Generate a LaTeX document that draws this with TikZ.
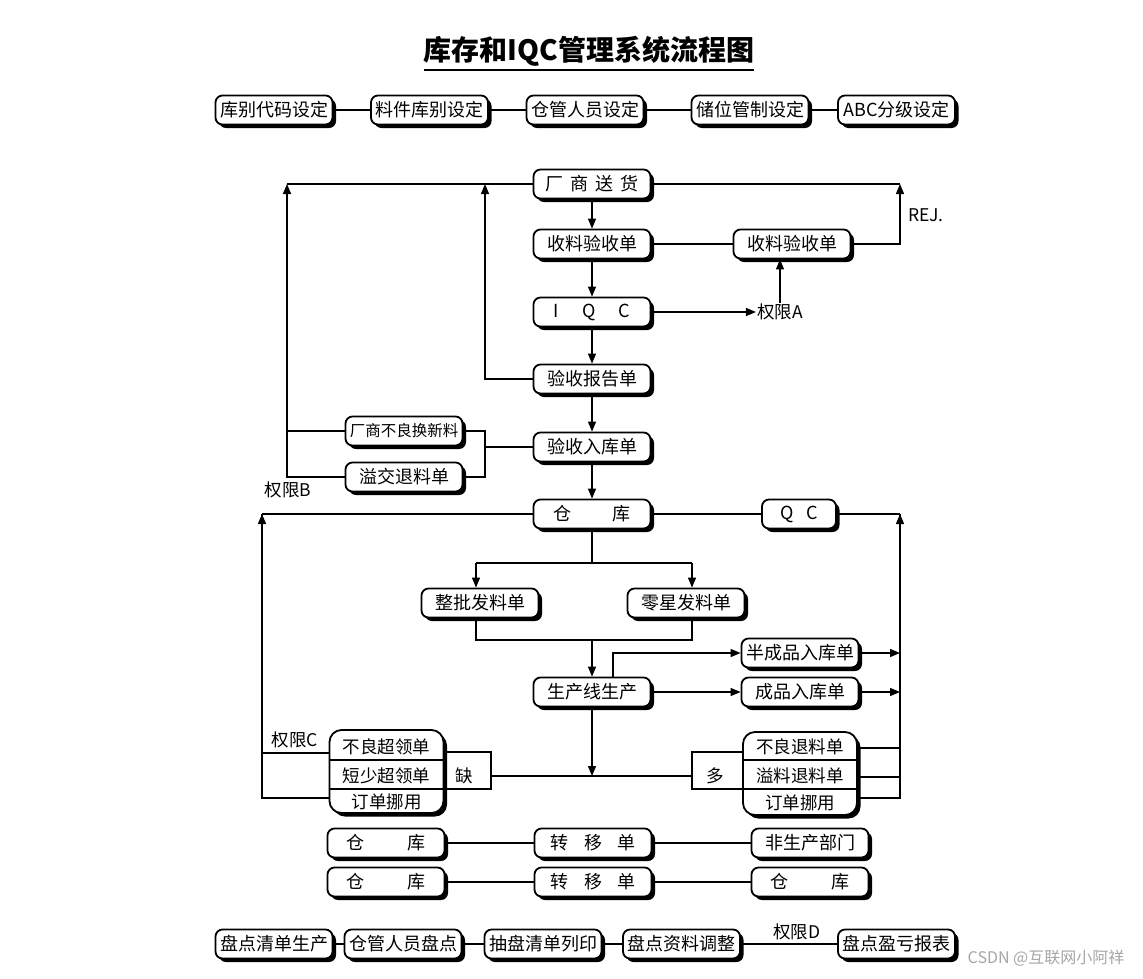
\documentclass[tikz,border=0pt]{standalone}
\usepackage{fontspec}
\setmainfont{Noto Sans CJK SC}
\usepackage{tikz}
\usetikzlibrary{
  arrows.meta,
  positioning,
  shadows,
  calc
}
\tikzset{
  box/.style      = {draw, line width=1.8pt, rounded corners=7pt, fill=white,
                     minimum width=117pt, minimum height=29pt, inner sep=0pt,
                     font=\fontsize{18}{20}\selectfont,
                     drop shadow={shadow xshift=3.5pt, shadow yshift=-3.5pt,
                                  opacity=1, fill=black}},
  qcbox/.style    = {box, minimum width=74pt},
  multibox/.style = {box, rounded corners=12pt, minimum width=114pt, minimum height=83pt},
  divider/.style  = {line width=1.5pt},
  wire/.style     = {line width=1.3pt},
  arrow/.style    = {wire, -{Triangle[length=10pt, width=8pt]}},
  tag/.style      = {inner sep=1pt, font=\fontsize{17.5}{19}\selectfont},
}

\begin{document}
\begin{tikzpicture}[x=1pt, y=-1pt]
\useasboundingbox (0,0) rectangle (1143,978);

% ========== Title ==========
\node[inner sep=0pt, font=\fontsize{28}{30}\selectfont\bfseries] (title)
  at (589,51) {库存和IQC管理系统流程图};
\draw[line width=2.2pt] ([yshift=-4pt]title.south west) -- ([yshift=-4pt]title.south east);

% ========== Setup row ==========
\node[box] (code)  at (274,110)   {库别代码设定};
\node[box] (part)  at (429.5,110) {料件库别设定};
\node[box] (staff) at (585,110)   {仓管人员设定};
\node[box] (bin)   at (750,110)   {储位管制设定};
\node[box] (abc)   at (896.5,110) {ABC分级设定};

\draw[wire] (code) -- (part);
\draw[wire] (part) -- (staff);
\draw[wire] (staff) -- (bin);
\draw[wire] (bin) -- (abc);

% ========== Receiving ==========
\node[box] (deliver) at (592,184) {厂\hspace{0.4em}商\hspace{0.4em}送\hspace{0.4em}货};
\node[box] (recv)    at (592,244) {收料验收单};
\node[box] (recvrej) at (792,244) {收料验收单};
\node[box] (iqc)     at (592,312) {I\hspace{1.3em}Q\hspace{1.3em}C};
\node[box] (report)  at (592,379) {验收报告单};
\node[box] (instock) at (592,447) {验收入库单};
\node[box, font=\fontsize{15.5}{17}\selectfont] (vendnew) at (404,431) {厂商不良换新料};
\node[box] (overret) at (404,477) {溢交退料单};

\node[tag] (qxA) at (780,312) {权限A};
\node[tag] (rej) at (926,215) {REJ.};
\node[tag] (qxB) at (288,490) {权限B};

\coordinate (rejtop) at (900,184);
\coordinate (bltop)  at (287,184);
\coordinate (brtop)  at (485,184);
\coordinate (bk)     at (485,447);

\draw[arrow] (deliver) -- (recv);
\draw[arrow] (recv) -- (iqc);
\draw[arrow] (iqc) -- (report);
\draw[arrow] (report) -- (instock);

\draw[wire] (recv) -- (recvrej);
\draw[wire] (deliver) -- (rejtop);
\draw[arrow] (recvrej) -| (rejtop);
\draw[arrow] (iqc) -- (qxA);
\draw[arrow] (qxA) -- (qxA |- recvrej.south);

\draw[wire] (deliver) -- (bltop);
\draw[arrow] (overret) -| (bltop);
\draw[wire] (vendnew) -- (vendnew -| bltop);
\draw[arrow] (report) -| (brtop);
\draw[wire] (vendnew) -| (bk) |- (overret);
\draw[wire] (bk) -- (instock);

% ========== Warehouse and issue ==========
\node[box]   (wh)   at (592,514) {仓\hspace{2.3em}库};
\node[qcbox] (qc)   at (799,514) {Q\hspace{0.7em}C};
\node[box]   (bulk) at (480,603) {整批发料单};
\node[box]   (odd)  at (686,603) {零星发料单};
\node[box]   (prod) at (592,692) {生产线生产};
\node[box]   (semi) at (800,653) {半成品入库单};
\node[box]   (done) at (800,692) {成品入库单};

% shortage slips (left) and return slips (right)
\node[multibox] (lmb) at (386.5,771.5) {};
\draw[divider] ([yshift=11.5pt]lmb.west) -- ([yshift=11.5pt]lmb.east);
\draw[divider] ([yshift=-17.5pt]lmb.west) -- ([yshift=-17.5pt]lmb.east);
\node[tag] (lmba) at ([yshift=25pt]lmb.center)  {不良超领单};
\node[tag] (lmbb) at ([yshift=-4pt]lmb.center)  {短少超领单};
\node[tag] (lmbc) at ([yshift=-30pt]lmb.center) {订单挪用};

\node[multibox] (rmb) at (800,773.5) {};
\draw[divider] ([yshift=13.5pt]rmb.west) -- ([yshift=13.5pt]rmb.east);
\draw[divider] ([yshift=-15.5pt]rmb.west) -- ([yshift=-15.5pt]rmb.east);
\node[tag] (rmba) at ([yshift=27pt]rmb.center)  {不良退料单};
\node[tag] (rmbb) at ([yshift=-2pt]rmb.center)  {溢料退料单};
\node[tag] (rmbc) at ([yshift=-29pt]rmb.center) {订单挪用};

\node[tag] (qxC) at (295,740) {权限C};
\node[tag] (que) at (464,776) {缺};
\node[tag] (duo) at (715,776) {多};

\draw[arrow] (instock) -- (wh);

\coordinate (fork)  at (592,563);
\coordinate (forkl) at (476,563);
\coordinate (forkr) at (692,563);
\coordinate (join)  at (592,640);
\coordinate (tap)   at (613,653);
\coordinate (lret)  at (262,514);
\coordinate (rret)  at (900,514);
\coordinate (split) at (592,776);
\coordinate (qtop)  at (491,752);
\coordinate (qbot)  at (491,789);
\coordinate (qmid)  at (491,776);
\coordinate (dtop)  at (692,752);
\coordinate (dbot)  at (692,789);
\coordinate (dmid)  at (692,776);

\draw[wire] (wh) -- (fork);
\draw[wire] (forkl) -- (forkr);
\draw[arrow] (forkl) -- (forkl |- bulk.north);
\draw[arrow] (forkr) -- (forkr |- odd.north);
\draw[wire] (bulk.south -| forkl) -- (forkl |- join) -- (forkr |- join) -- (odd.south -| forkr);
\draw[arrow] (join) -- (prod);

\draw[arrow] (tap |- prod.north) -- (tap) -- (semi);
\draw[arrow] (prod) -- (done);
\draw[arrow] (semi) -- (semi -| rret);
\draw[arrow] (done) -- (done -| rret);

\draw[wire] (wh) -- (qc);
\draw[wire] (qc) -- (rret);
\draw[arrow] ([yshift=-24.5pt]rmb.east) -| (rret);
\draw[wire] ([yshift=25.5pt]rmb.east) -| (rret);
\draw[wire] ([yshift=-3.5pt]rmb.east) -| (rret);

\draw[wire] (wh) -- (lret);
\draw[arrow] ([yshift=-26.5pt]lmb.west) -| (lret);
\draw[wire] ([yshift=18.5pt]lmb.west) -| (lret);

\draw[wire] (qtop -| lmb.east) -- (qtop) -- (qbot) -- (qbot -| lmb.east);
\draw[wire] (dtop -| rmb.west) -- (dtop) -- (dbot) -- (dbot -| rmb.west);
\draw[wire] (qmid) -- (dmid);
\draw[arrow] (prod) -- (split);

% ========== Transfer ==========
\node[box] (wha)     at (386,843) {仓\hspace{2.4em}库};
\node[box] (tra)     at (593,843) {转\hspace{0.85em}移\hspace{0.85em}单};
\node[box] (nonprod) at (810,843) {非生产部门};
\node[box] (whb)     at (386,882) {仓\hspace{2.4em}库};
\node[box] (trb)     at (593,882) {转\hspace{0.85em}移\hspace{0.85em}单};
\node[box] (whc)     at (810,882) {仓\hspace{2.4em}库};

\draw[wire] (wha) -- (tra);
\draw[wire] (tra) -- (nonprod);
\draw[wire] (whb) -- (trb);
\draw[wire] (trb) -- (whc);

% ========== Stocktaking ==========
\node[box] (cnta) at (274,944)   {盘点清单生产};
\node[box] (cntb) at (403,944)   {仓管人员盘点};
\node[box] (cntc) at (543,944)   {抽盘清单列印};
\node[box] (cntd) at (681.5,944) {盘点资料调整};
\node[box] (cnte) at (896.5,944) {盘点盈亏报表};
\node[tag] (qxD) at (797,932) {权限D};

\draw[wire] (cnta) -- (cntb);
\draw[wire] (cntb) -- (cntc);
\draw[wire] (cntc) -- (cntd);
\draw[wire] (cntd) -- (cnte);

\node[font=\fontsize{16}{18}\selectfont, text=gray!70] (mark) at (1046,958) {CSDN @互联网小阿祥};

\end{tikzpicture}
\end{document}
